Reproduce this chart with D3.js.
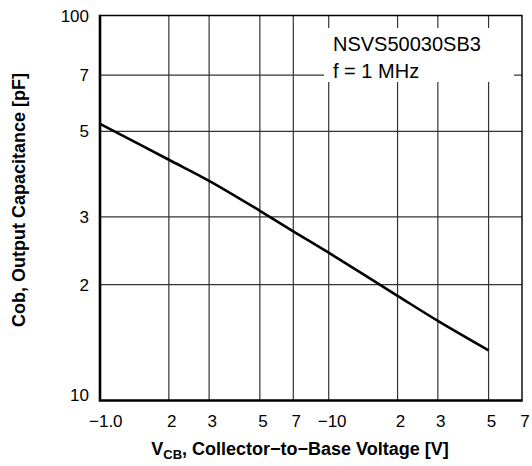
<!DOCTYPE html>
<html>
<head>
<meta charset="utf-8">
<script src="https://cdn.jsdelivr.net/npm/d3@7"></script>
<style>
  body { margin: 0; background: #fff; }
  text { font-family: "Liberation Sans", Arial, Helvetica, sans-serif; fill: #000; }
</style>
</head>
<body>
<svg id="chart" width="532" height="466"></svg>
<script>
// collector-base voltage (magnitude, V) and output capacitance (pF)
var vcb = [1, 2, 3, 5, 7, 10, 20, 30, 50];
var cob = [5.23, 4.22, 3.72, 3.11, 2.75, 2.42, 1.87, 1.61, 1.35];

// axis ticks and the labels printed at them
var xTicks = [1, 2, 3, 5, 7, 10, 20, 30, 50, 70];
var xTickLabels = ["\u22121.0", "2", "3", "5", "7", "\u221210", "2", "3", "5", "7"];
var yTicks = [1, 2, 3, 5, 7, 10];
var yTickLabels = ["10", "2", "3", "5", "7", "100"];

var noteLines = ["NSVS50030SB3", "f = 1 MHz"];

// plot box (window.top is reserved, hence the p prefix)
var pLeft = 100, pRight = 522, pTop = 15.5, pBottom = 400.5;

var svg = d3.select("#chart");

var x = d3.scaleLog().domain([1, 70]).range([pLeft, pRight]);
var y = d3.scaleLog().domain([1, 10]).range([pBottom, pTop]);

// grid
var grid = svg.append("g").attr("stroke", "#333").attr("stroke-width", 1.2);
grid.selectAll("line.vx").data(xTicks.slice(1, -1)).enter().append("line")
    .attr("x1", function(d){ return x(d); }).attr("x2", function(d){ return x(d); })
    .attr("y1", pTop).attr("y2", pBottom);
grid.selectAll("line.hy").data(yTicks.slice(1, -1)).enter().append("line")
    .attr("x1", pLeft).attr("x2", pRight)
    .attr("y1", function(d){ return y(d); }).attr("y2", function(d){ return y(d); });

// white patch behind the note
svg.append("rect").attr("x", 324).attr("y", 28).attr("width", 190).attr("height", 54).attr("fill", "#fff");
svg.selectAll("text.note").data(noteLines).enter().append("text")
    .attr("class", "note")
    .attr("x", 333).attr("y", function(d, i){ return 50.5 + i * 27.5; })
    .style("font-size", "20px")
    .text(function(d){ return d; });

// frame: thin top/right, heavy left/bottom
svg.append("path").attr("fill", "none").attr("stroke", "#000").attr("stroke-width", 1.4)
    .attr("d", "M" + pLeft + "," + pTop + "H" + pRight + "V" + pBottom);
svg.append("path").attr("fill", "none").attr("stroke", "#000").attr("stroke-width", 2.6)
    .attr("d", "M" + pLeft + "," + (pTop - 0.7) + "V" + pBottom + "H" + (pRight + 0.7));

// curve
var line = d3.line()
    .x(function(d){ return x(d[0]); })
    .y(function(d){ return y(d[1]); })
    .curve(d3.curveCatmullRom.alpha(0.5));
svg.append("path").datum(d3.zip(vcb, cob))
    .attr("fill", "none").attr("stroke", "#000").attr("stroke-width", 2.6)
    .attr("stroke-linejoin", "round")
    .attr("d", line);

// y tick labels
svg.selectAll("text.yt").data(yTicks).enter().append("text")
    .attr("class", "yt")
    .attr("x", 89)
    .attr("y", function(d){ return y(d) + (d === 1 ? 0 : 6); })
    .attr("text-anchor", "end")
    .style("font-size", "17px")
    .text(function(d, i){ return yTickLabels[i]; });

// x tick labels (the leading minus hangs left of the grid line)
svg.selectAll("text.xt").data(xTicks).enter().append("text")
    .attr("class", "xt")
    .attr("x", function(d, i){ return xTickLabels[i].charAt(0) === "\u2212" ? x(d) - 11 : x(d) + 3; })
    .attr("y", 427)
    .attr("text-anchor", function(d, i){ return xTickLabels[i].charAt(0) === "\u2212" ? "start" : "middle"; })
    .style("font-size", "17px")
    .text(function(d, i){ return xTickLabels[i]; });

// axis titles
var xt = svg.append("text").attr("x", 300).attr("y", 455).attr("text-anchor", "middle")
    .style("font-size", "18px").style("font-weight", "bold");
xt.append("tspan").text("V");
xt.append("tspan").attr("dy", 4).style("font-size", "13px").text("CB");
xt.append("tspan").attr("dy", -4).text(", Collector\u2212to\u2212Base Voltage [V]");

svg.append("text")
    .attr("transform", "translate(25,200) rotate(-90)")
    .attr("text-anchor", "middle")
    .style("font-size", "18px").style("font-weight", "bold")
    .text("Cob, Output Capacitance [pF]");
</script>
</body>
</html>
